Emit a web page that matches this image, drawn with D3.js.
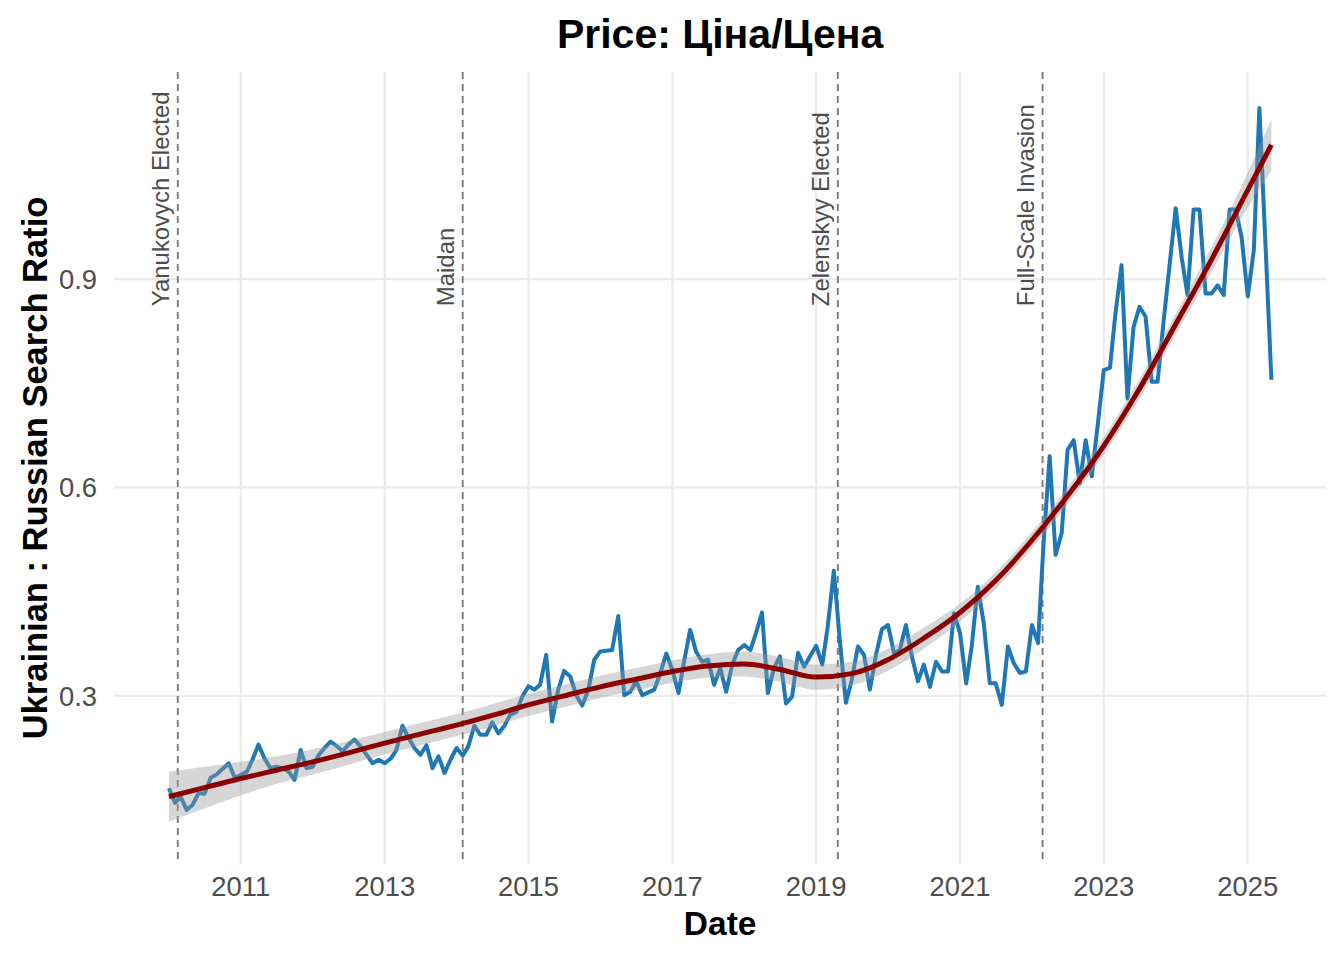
<!DOCTYPE html>
<html><head><meta charset="utf-8">
<script src="https://cdn.jsdelivr.net/npm/d3@7"></script>
<style>body{margin:0;background:#fff} svg{display:block}</style>
</head><body>
<svg id="chart" width="1344" height="960"></svg>
<script>
// ---- data ----
const startMonth = "2010-01-01";
const ratioValues = [
 0.167,0.146,0.155,0.136,0.143,0.160,0.159,0.182,0.187,0.195,0.203,0.182,
 0.186,0.191,0.208,0.230,0.210,0.196,0.198,0.196,0.191,0.179,0.222,0.196,
 0.198,0.215,0.225,0.234,0.228,0.220,0.230,0.237,0.227,0.215,0.203,0.208,
 0.203,0.210,0.222,0.257,0.240,0.225,0.215,0.229,0.196,0.213,0.189,0.208,
 0.225,0.214,0.227,0.257,0.244,0.244,0.262,0.246,0.257,0.273,0.277,0.299,
 0.314,0.309,0.316,0.359,0.263,0.309,0.336,0.328,0.301,0.286,0.309,0.352,
 0.364,0.365,0.366,0.415,0.301,0.306,0.321,0.301,0.305,0.309,0.333,0.361,
 0.337,0.304,0.349,0.395,0.364,0.349,0.352,0.316,0.340,0.306,0.345,0.366,
 0.373,0.366,0.390,0.420,0.304,0.340,0.357,0.289,0.299,0.362,0.342,0.357,
 0.372,0.345,0.400,0.480,0.381,0.290,0.323,0.371,0.359,0.309,0.359,0.396,
 0.402,0.361,0.366,0.402,0.357,0.321,0.345,0.313,0.349,0.335,0.335,0.419,
 0.390,0.318,0.371,0.457,0.405,0.318,0.318,0.287,0.371,0.347,0.333,0.335,
 0.402,0.376,0.520,0.645,0.503,0.534,0.654,0.668,0.606,0.668,0.616,0.690,
 0.769,0.772,0.850,0.920,0.728,0.831,0.860,0.846,0.752,0.752,0.840,0.920,
 1.002,0.930,0.877,1.000,1.000,0.879,0.879,0.891,0.877,1.000,1.000,0.960,
 0.875,0.942,1.146,0.950,0.755
];
const smoothDates = ["2010-01-01","2010-07-01","2011-01-01","2011-07-01","2012-01-01","2012-07-01",
 "2013-01-01","2013-07-01","2014-01-01","2014-07-01","2015-01-01","2015-07-01","2016-01-01","2016-07-01",
 "2017-01-01","2017-07-01","2018-01-01","2018-07-01","2019-01-01","2019-07-01","2020-01-01","2020-07-01",
 "2021-01-01","2021-07-01","2022-01-01","2022-07-01","2023-01-01","2023-07-01","2024-01-01","2024-07-01",
 "2025-01-01","2025-05-01"];
const smoothValues = [0.155,0.168,0.181,0.193,0.205,0.218,
 0.232,0.245,0.258,0.272,0.287,0.300,0.313,0.324,
 0.335,0.343,0.346,0.338,0.327,0.332,0.352,0.383,
 0.420,0.466,0.524,0.588,0.660,0.742,0.835,0.928,
 1.028,1.093];
const smoothHalfWidth = [0.036,0.030,0.024,0.020,0.018,0.017,
 0.016,0.016,0.016,0.016,0.016,0.016,0.016,0.016,
 0.016,0.017,0.018,0.018,0.018,0.017,0.016,0.015,
 0.013,0.012,0.012,0.012,0.013,0.014,0.015,0.018,
 0.025,0.037];
const xTickYears = [2011,2013,2015,2017,2019,2021,2023,2025];
const yTicks = [0.3,0.6,0.9];
const eventDates = ["2010-02-15","2014-02-01","2019-04-21","2022-02-24"];
const eventLabels = ["Yanukovych Elected","Maidan","Zelenskyy Elected","Full-Scale Invasion"];
const titleText = "Price: Ціна/Цена";
const xTitle = "Date";
const yTitle = "Ukrainian : Russian Search Ratio";

// ---- layout ----
const W = 1344, H = 960;
const plot = {left: 113.8, right: 1326.5, top: 72, bottom: 864};
const font = "'Liberation Sans', Arial, Helvetica, sans-serif";

const parse = d3.utcParse("%Y-%m-%d");
const start = parse(startMonth);
const series = ratioValues.map((v,i)=>({date: d3.utcMonth.offset(start,i), value: v}));
const smooth = smoothDates.map((d,i)=>({date: parse(d), value: smoothValues[i], hw: smoothHalfWidth[i]}));

const ext = d3.extent(series, d=>d.date);
const span = ext[1]-ext[0];
const x = d3.scaleUtc()
  .domain([new Date(+ext[0]-span*0.05), new Date(+ext[1]+span*0.05)])
  .range([plot.left, plot.right]);
const y = d3.scaleLinear().domain([0.058,1.198]).range([plot.bottom, plot.top]);

const svg = d3.select("#chart");
svg.append("rect").attr("width",W).attr("height",H).attr("fill","#fff");

// grid
const g = svg.append("g");
g.selectAll(".gx").data(xTickYears).join("line")
  .attr("x1",d=>x(Date.UTC(d,0,1))).attr("x2",d=>x(Date.UTC(d,0,1)))
  .attr("y1",plot.top).attr("y2",plot.bottom)
  .attr("stroke","#ebebeb").attr("stroke-width",2.2);
g.selectAll(".gy").data(yTicks).join("line")
  .attr("x1",plot.left).attr("x2",plot.right)
  .attr("y1",d=>y(d)).attr("y2",d=>y(d))
  .attr("stroke","#ebebeb").attr("stroke-width",2.2);

// event lines
const ev = eventDates.map((d,i)=>({date: parse(d), label: eventLabels[i]}));
svg.selectAll(".ev").data(ev).join("line")
  .attr("x1",d=>x(d.date)).attr("x2",d=>x(d.date))
  .attr("y1",plot.top).attr("y2",plot.bottom)
  .attr("stroke","#7a7a7a").attr("stroke-width",1.9).attr("stroke-dasharray","7,5");

// blue data line
svg.append("path").datum(series)
  .attr("fill","none").attr("stroke","#1f77b4").attr("stroke-width",4)
  .attr("stroke-linejoin","round")
  .attr("d", d3.line().x(d=>x(d.date)).y(d=>y(d.value)));

// ribbon
svg.append("path").datum(smooth)
  .attr("fill","#999999").attr("fill-opacity",0.4)
  .attr("d", d3.area().curve(d3.curveMonotoneX)
     .x(d=>x(d.date)).y0(d=>y(d.value-d.hw)).y1(d=>y(d.value+d.hw)));

// smooth line
svg.append("path").datum(smooth)
  .attr("fill","none").attr("stroke","#8b0000").attr("stroke-width",5)
  .attr("d", d3.line().curve(d3.curveMonotoneX).x(d=>x(d.date)).y(d=>y(d.value)));

// event labels
svg.selectAll(".evl").data(ev).join("text")
  .attr("transform",d=>`translate(${x(d.date)-8.5},${y(0.861)}) rotate(-90)`)
  .attr("text-anchor","start")
  .attr("font-family",font).attr("font-size",23.9).attr("fill","#4d4d4d")
  .text(d=>d.label);

// x tick labels
svg.selectAll(".xt").data(xTickYears).join("text")
  .attr("x",d=>x(Date.UTC(d,0,1))).attr("y",896)
  .attr("text-anchor","middle")
  .attr("font-family",font).attr("font-size",27.4).attr("fill","#4d4d4d")
  .text(d=>d);

// y tick labels
svg.selectAll(".yt").data(yTicks).join("text")
  .attr("x",97).attr("y",d=>y(d)).attr("dy","0.36em")
  .attr("text-anchor","end")
  .attr("font-family",font).attr("font-size",27.4).attr("fill","#4d4d4d")
  .text(d=>d3.format(".1f")(d));

// titles
svg.append("text").attr("x",(plot.left+plot.right)/2).attr("y",48)
  .attr("text-anchor","middle").attr("font-family",font).attr("font-weight","bold")
  .attr("font-size",41).attr("fill","#000").text(titleText);
svg.append("text").attr("x",(plot.left+plot.right)/2).attr("y",935)
  .attr("text-anchor","middle").attr("font-family",font).attr("font-weight","bold")
  .attr("font-size",33.5).attr("fill","#000").text(xTitle);
svg.append("text")
  .attr("transform",`translate(46.5,${(plot.top+plot.bottom)/2}) rotate(-90)`)
  .attr("text-anchor","middle").attr("font-family",font).attr("font-weight","bold")
  .attr("font-size",34.5).attr("fill","#000").text(yTitle);
</script>
</body></html>
